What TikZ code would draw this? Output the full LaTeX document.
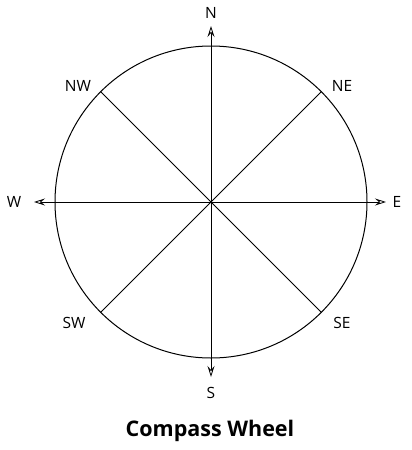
\documentclass[tikz,border=0pt]{standalone}
\usepackage{fontspec}
\setmainfont{Open Sans}
\usetikzlibrary{arrows.meta}
\begin{document}
\begin{tikzpicture}[x=1pt,y=-1pt,
  ln/.style={line width=1pt,black},
  ax/.style={ln,-{Stealth[fill=white,length=11pt,width=7pt,inset=4pt,line width=0.8pt]}},
  lbl/.style={font=\fontsize{15.5}{18}\selectfont,inner sep=0pt}]
\useasboundingbox (0,0) rectangle (412,450);
\coordinate (c) at (211,202);
\draw[ln] (c) circle (156);
\coordinate (ne) at (321.3,91.7);
\coordinate (nw) at (100.7,91.7);
\coordinate (se) at (321.3,312.3);
\coordinate (sw) at (100.7,312.3);
\draw[ln] (ne) -- (sw);
\draw[ln] (nw) -- (se);
\coordinate (nt) at (211,26);
\coordinate (st) at (211,377);
\coordinate (wt) at (34,202);
\coordinate (et) at (386,202);
\draw[ax] (c) -- (nt);
\draw[ax] (c) -- (st);
\draw[ax] (c) -- (wt);
\draw[ax] (c) -- (et);
\node[lbl] (N) at (211,13) {N};
\node[lbl] (S) at (211,393) {S};
\node[lbl] (W) at (14,202) {W};
\node[lbl] (E) at (397,202) {E};
\node[lbl] (NE) at (342,86) {NE};
\node[lbl] (NW) at (78,86) {NW};
\node[lbl] (SE) at (342,323) {SE};
\node[lbl] (SW) at (74,323) {SW};
\node[font=\fontsize{21.5}{25}\selectfont\bfseries,inner sep=0pt] (title) at (210,431) {Compass Wheel};
\end{tikzpicture}
\end{document}
